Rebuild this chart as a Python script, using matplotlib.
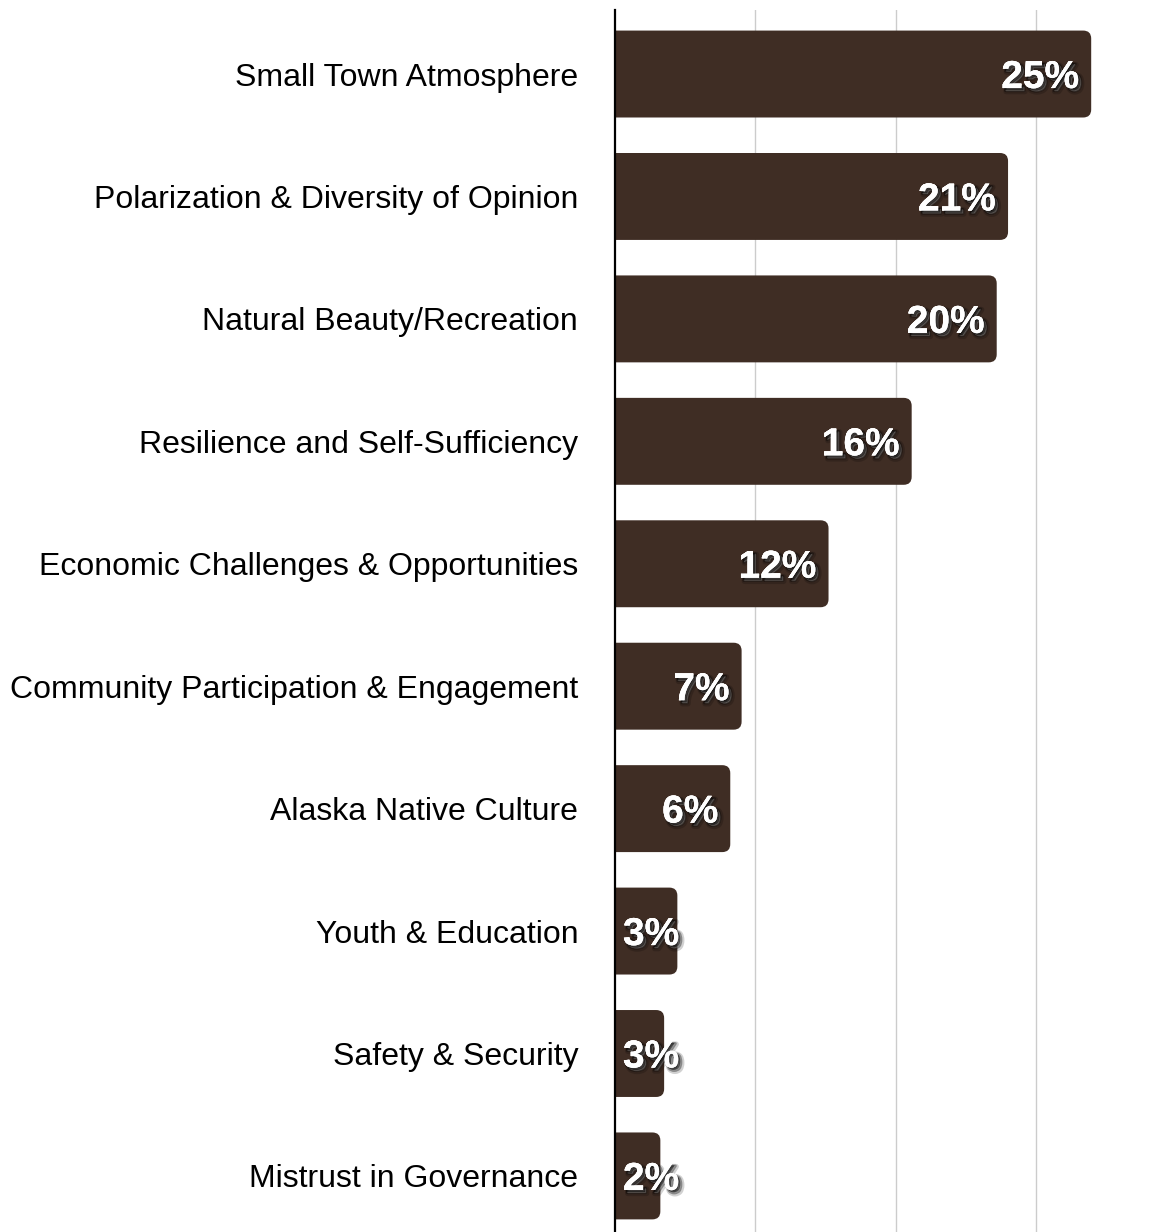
import matplotlib
matplotlib.use("Agg")
import matplotlib.pyplot as plt
from matplotlib.patches import FancyBboxPatch
from matplotlib import patheffects as pe


categories = [
    "Small Town Atmosphere",
    "Polarization & Diversity of Opinion",
    "Natural Beauty/Recreation",
    "Resilience and Self-Sufficiency",
    "Economic Challenges & Opportunities",
    "Community Participation & Engagement",
    "Alaska Native Culture",
    "Youth & Education",
    "Safety & Security",
    "Mistrust in Governance",
]
# bar lengths (share of responses, %)
shares = [25.2, 20.8, 20.2, 15.7, 11.3, 6.7, 6.1, 3.3, 2.6, 2.4]
# labels printed on the bars
share_labels = ["25%", "21%", "20%", "16%", "12%", "7%", "6%", "3%", "3%", "2%"]

GRID_STEP = 7.43
BAR_COLOR = "#3f2d24"

W, H = 1168, 1232
fig = plt.figure(figsize=(W / 100, H / 100), dpi=100)
fig.patch.set_facecolor("white")

ax = fig.add_axes([615 / W, 0.0, 548 / W, 1 - 10 / H])
ax.set_xlim(0, 29)
ax.set_ylim(9.458, -0.523)

px_x = 548 / 29          # pixels per x unit
px_y = 1222 / (9.458 + 0.523)  # pixels per y unit

ypos = list(range(len(categories)))
bars = ax.barh(ypos, shares, height=0.71, color=BAR_COLOR)

radius = 8 / px_x
aspect = px_x / px_y
for bar in bars:
    x0, y0 = bar.get_x(), bar.get_y()
    w, h = bar.get_width(), bar.get_height()
    bar.set_visible(False)
    patch = FancyBboxPatch(
        (x0 - radius * 2, y0), w + radius * 2, h,
        boxstyle=f"round,pad=0,rounding_size={radius}",
        mutation_aspect=aspect,
        facecolor=BAR_COLOR, edgecolor="none", zorder=2,
    )
    ax.add_patch(patch)

# soft drop shadow, built from a few offset strokes
shadow = [
    pe.withStroke(linewidth=4, foreground="black", alpha=0.18, offset=(2.5, -2.5)),
    pe.withStroke(linewidth=2, foreground="black", alpha=0.35, offset=(2, -2)),
    pe.withSimplePatchShadow(offset=(1.5, -1.5), shadow_rgbFace="black", alpha=0.6),
    pe.Normal(),
]
min_left = 8 / px_x
dy = 4 / px_y
for y, val, lab in zip(ypos, shares, share_labels):
    right = val - 12 / px_x
    txt = ax.text(right, y + dy, lab, ha="right", va="center", color="white",
                  fontsize=28, fontweight="bold", family="Liberation Sans", zorder=4)
    txt.set_path_effects(shadow)
    fig.canvas.draw()
    bb = txt.get_window_extent()
    left_px = bb.x0 - ax.get_window_extent().x0
    if left_px < 8:
        txt.set_x(min_left)
        txt.set_ha("left")

ax.set_yticks(ypos)
ax.set_yticklabels(categories, fontsize=23, family="Liberation Sans", color="black")
ax.tick_params(axis="y", length=0, pad=26.5)
ax.set_xticks([GRID_STEP * i for i in range(1, 4)])
ax.tick_params(axis="x", length=0, labelbottom=False)
ax.grid(axis="x", color="#cccccc", linewidth=1)
ax.set_axisbelow(True)

for side in ("top", "right", "bottom"):
    ax.spines[side].set_visible(False)
ax.spines["left"].set_linewidth(1.6)
ax.spines["left"].set_color("black")
ax.spines["left"].set_zorder(5)

fig.savefig("out.png", dpi=100)
